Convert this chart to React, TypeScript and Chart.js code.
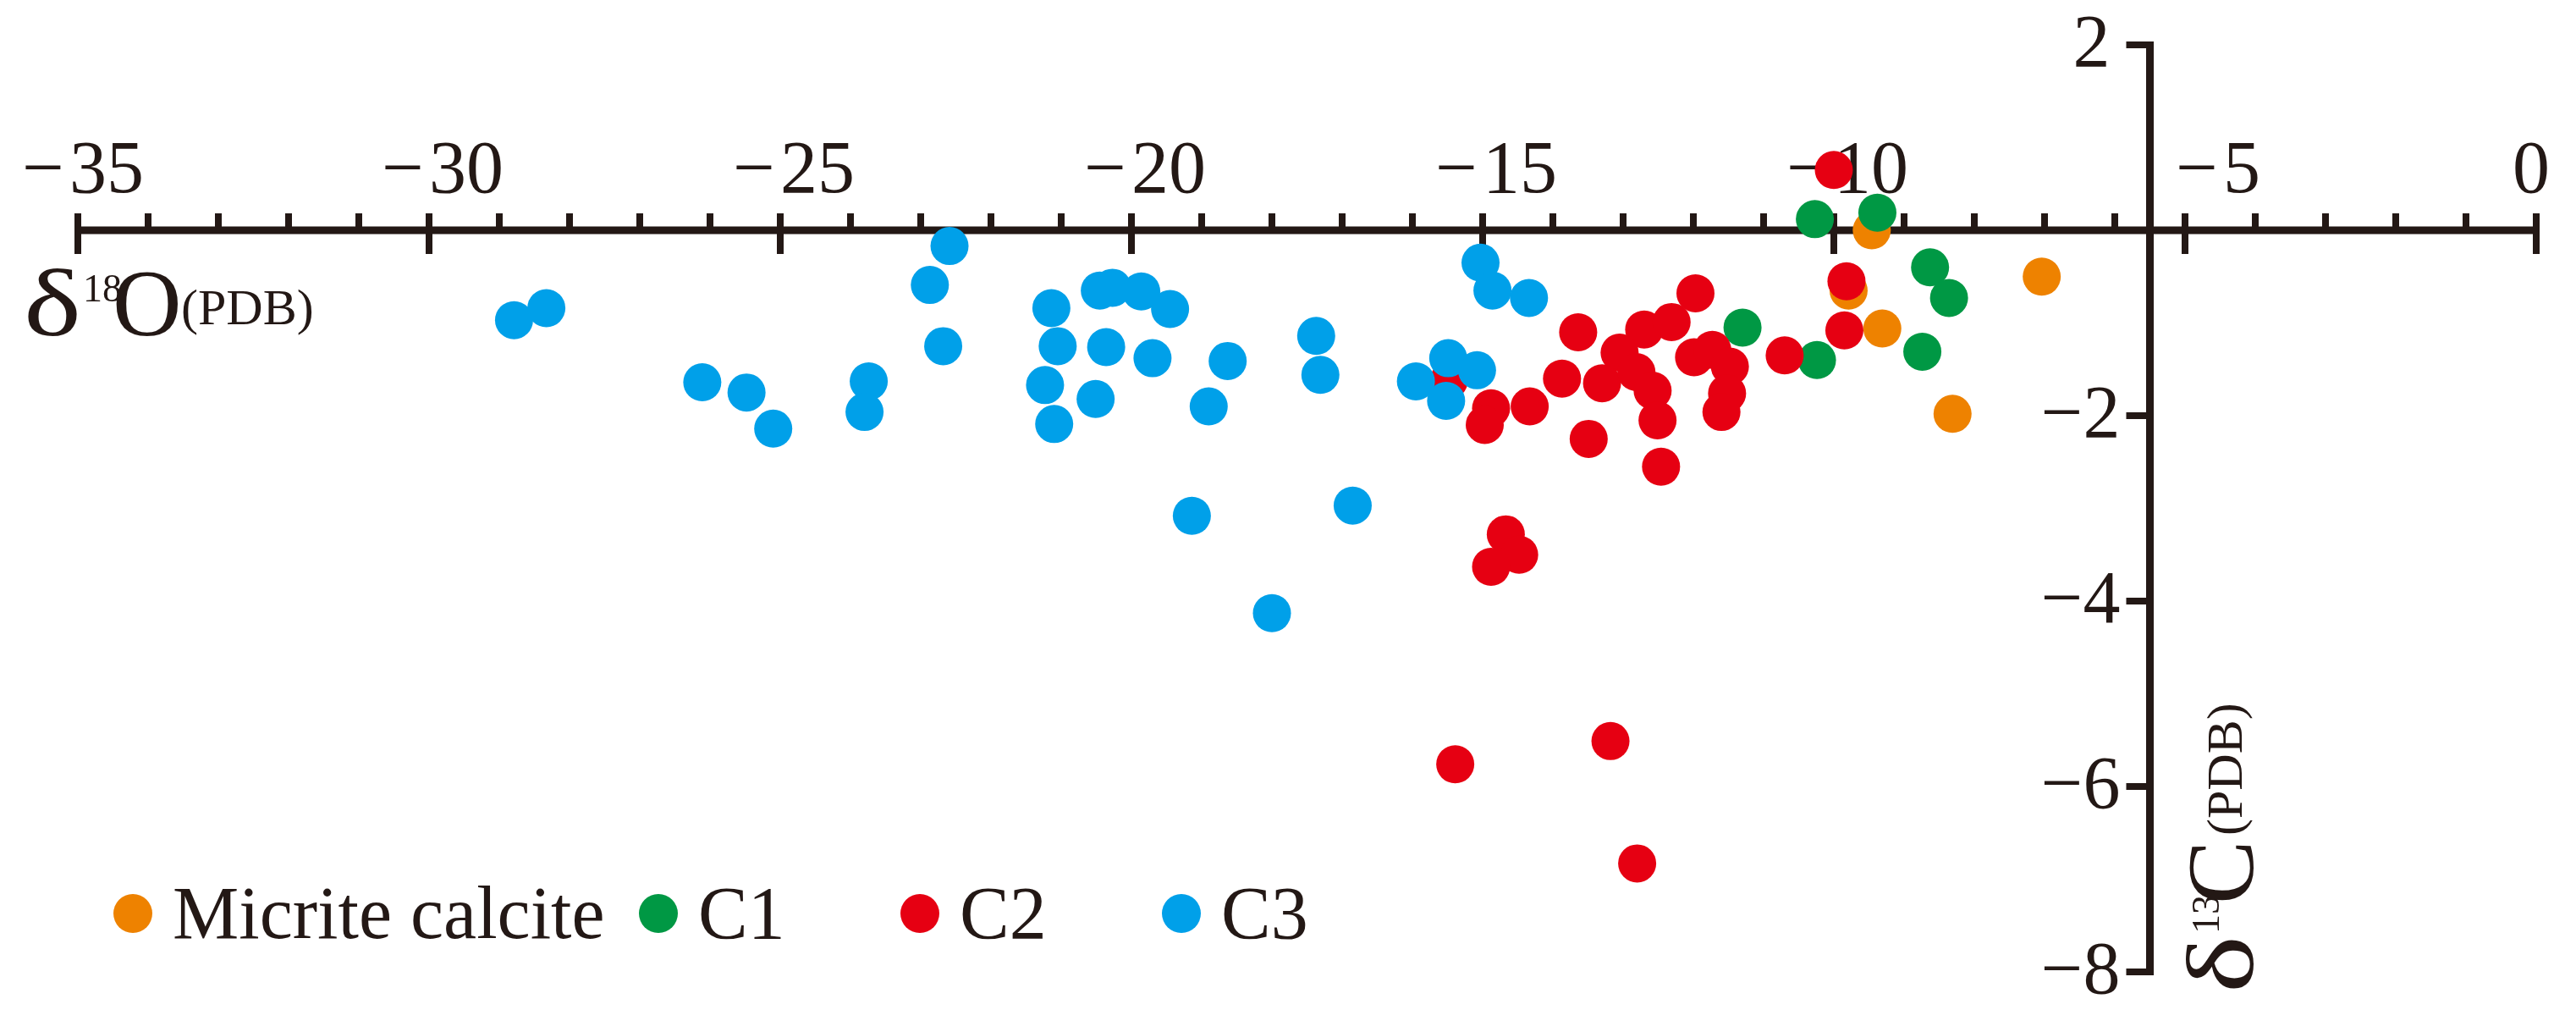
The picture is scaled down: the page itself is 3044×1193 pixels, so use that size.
import { useEffect, useRef } from 'react';
import { Chart, registerables } from 'chart.js';

Chart.register(...registerables);

// ---- data (δ18O, δ13C in ‰ PDB) ----
const seriesNames = ['Micrite calcite', 'C1', 'C2', 'C3'];
const seriesColors = ['#EE8200', '#009844', '#E60012', '#00A0E9'];

const micriteO = [-9.46, -7.04, -9.79, -9.31, -8.31];
const micriteC = [0.0, -0.5, -0.65, -1.06, -1.98];

const c1O = [-10.27, -9.38, -8.63, -8.36, -11.3, -10.24, -8.74];
const c1C = [0.12, 0.19, -0.4, -0.73, -1.05, -1.4, -1.31];

const c2O = [-10.0, -9.82, -9.85, -10.7, -11.97, -13.64, -12.7, -12.31, -13.05, -11.99, -11.73, -11.48, -11.52, -11.6, -13.87, -13.3, -12.81, -12.58, -12.51, -13.49, -12.46, -14.33, -14.88, -14.97, -15.48, -14.67, -14.48, -14.88, -15.39, -13.18, -12.8];
const c2C = [0.65, -0.55, -1.08, -1.35, -0.68, -1.1, -1.07, -0.99, -1.32, -1.37, -1.29, -1.47, -1.76, -1.96, -1.6, -1.65, -1.53, -1.73, -2.05, -2.25, -2.55, -1.9, -1.92, -2.1, -1.62, -3.28, -3.5, -3.63, -5.76, -5.51, -6.83];

const c3O = [-28.79, -28.33, -26.11, -25.48, -25.1, -23.74, -23.8, -22.59, -22.87, -22.68, -21.14, -21.05, -21.23, -21.1, -20.45, -20.27, -19.86, -19.45, -20.36, -20.51, -19.7, -18.63, -18.9, -19.14, -17.37, -17.31, -16.85, -18.0, -15.03, -14.86, -14.34, -15.49, -15.08, -15.95, -15.52];
const c3C = [-0.97, -0.84, -1.64, -1.75, -2.14, -1.63, -1.96, -0.17, -0.59, -1.25, -0.84, -1.25, -1.67, -2.09, -0.65, -0.62, -0.66, -0.85, -1.26, -1.82, -1.38, -1.41, -1.9, -3.08, -1.14, -1.56, -2.97, -4.13, -0.35, -0.65, -0.73, -1.38, -1.51, -1.63, -1.84];

// ---- axis definitions ----
const xMin = -35;
const xMax = 0;
const yMin = -8;
const yMax = 2;
const xMajorTicks = [-35, -30, -25, -20, -15, -10, -5, 0];
const xMinorStep = 1;
const yTickValues = [2, -2, -4, -6, -8];
const yAxisCrossesX = -5.5;

const FONT = "'Liberation Serif', 'Times New Roman', Times, serif";
const INK = '#231815';

function zip(xs: number[], ys: number[]) {
  return xs.map((x, i) => ({ x, y: ys[i] }));
}

function drawIsoLabel(
  ctx: CanvasRenderingContext2D,
  sup: string,
  letter: string
) {
  // local frame: origin = start of δ on the main baseline
  ctx.fillStyle = INK;
  ctx.textAlign = 'left';
  ctx.textBaseline = 'alphabetic';
  ctx.font = `113px ${FONT}`;
  const dw = ctx.measureText('δ').width;
  ctx.save();
  ctx.scale(68 / dw, 1);
  ctx.fillText('δ', 0, 0);
  ctx.restore();
  ctx.font = `46px ${FONT}`;
  ctx.fillText(sup, 70, -40);
  ctx.font = `113px ${FONT}`;
  ctx.fillText(letter, 105, 0);
  ctx.font = `60px ${FONT}`;
  ctx.fillText('(PDB)', 186, -13);
}

const axesPlugin = {
  id: 'customAxes',
  beforeDraw(chart: any) {
    const ctx = chart.ctx as CanvasRenderingContext2D;
    ctx.save();
    ctx.fillStyle = '#ffffff';
    ctx.fillRect(0, 0, chart.width, chart.height);
    ctx.restore();
  },
  beforeDatasetsDraw(chart: any) {
    const ctx = chart.ctx as CanvasRenderingContext2D;
    const xs = chart.scales.x;
    const ys = chart.scales.y;
    const y0 = ys.getPixelForValue(0);
    const xa = xs.getPixelForValue(yAxisCrossesX);
    ctx.save();
    ctx.strokeStyle = INK;
    ctx.fillStyle = INK;
    ctx.lineCap = 'butt';

    // x axis line
    ctx.lineWidth = 9;
    ctx.beginPath();
    ctx.moveTo(xs.getPixelForValue(xMin) - 4, y0);
    ctx.lineTo(xs.getPixelForValue(xMax) + 4, y0);
    ctx.stroke();

    // x ticks: minor upward, major through the axis
    ctx.lineWidth = 8;
    ctx.beginPath();
    for (let v = xMin; v <= xMax + 1e-9; v += xMinorStep) {
      const px = xs.getPixelForValue(v);
      const major = xMajorTicks.includes(v);
      ctx.moveTo(px, y0 - 20);
      ctx.lineTo(px, major ? y0 + 28 : y0);
    }
    ctx.stroke();

    // x tick labels (digits start at the tick, minus sign before it)
    ctx.font = `88px ${FONT}`;
    ctx.textBaseline = 'alphabetic';
    const base = y0 - 45;
    for (const v of xMajorTicks) {
      const px = xs.getPixelForValue(v);
      if (v === 0) {
        ctx.textAlign = 'center';
        ctx.fillText('0', px - 6, base);
        continue;
      }
      let dx = 0;
      if (v === xMin) dx = -10;
      if (v === -5) dx = 45;
      ctx.textAlign = 'left';
      ctx.fillText(String(Math.abs(v)), px + dx, base);
      ctx.textAlign = 'right';
      ctx.fillText('\u2212', px + dx - 6, base);
    }

    // y axis line
    ctx.lineWidth = 9;
    ctx.beginPath();
    ctx.moveTo(xa, ys.getPixelForValue(yMax) - 4);
    ctx.lineTo(xa, ys.getPixelForValue(yMin) + 4);
    ctx.stroke();

    // y ticks (to the left)
    ctx.lineWidth = 8;
    ctx.beginPath();
    for (const v of yTickValues) {
      const py = ys.getPixelForValue(v);
      ctx.moveTo(xa + 4, py);
      ctx.lineTo(xa - 28, py);
    }
    ctx.stroke();

    // y tick labels
    ctx.font = `88px ${FONT}`;
    ctx.textAlign = 'right';
    for (const v of yTickValues) {
      const py = ys.getPixelForValue(v);
      const txt = v < 0 ? '\u2212' + Math.abs(v) : String(v);
      ctx.fillText(txt, v < 0 ? xa - 35 : xa - 47, py + 25);
    }
    ctx.restore();
  },
  afterDraw(chart: any) {
    const ctx = chart.ctx as CanvasRenderingContext2D;
    const xs = chart.scales.x;
    const ys = chart.scales.y;
    const y0 = ys.getPixelForValue(0);
    const xa = xs.getPixelForValue(yAxisCrossesX);
    ctx.save();

    // δ18O(PDB) title under the x axis, left
    ctx.save();
    ctx.translate(28, y0 + 124);
    drawIsoLabel(ctx, '18', 'O');
    ctx.restore();

    // δ13C(PDB) title, vertical, right of the y axis
    ctx.save();
    ctx.translate(xa + 121, ys.getPixelForValue(yMin) + 25);
    ctx.rotate(-Math.PI / 2);
    drawIsoLabel(ctx, '13', 'C');
    ctx.restore();

    // legend
    const legendY = 1079;
    const legendDotX = [157, 778, 1087, 1396];
    ctx.font = `88px ${FONT}`;
    ctx.textAlign = 'left';
    ctx.textBaseline = 'alphabetic';
    seriesNames.forEach((name, i) => {
      ctx.fillStyle = seriesColors[i];
      ctx.beginPath();
      ctx.arc(legendDotX[i], legendY, 23, 0, Math.PI * 2);
      ctx.fill();
      ctx.fillStyle = INK;
      ctx.fillText(name, legendDotX[i] + 47, legendY + 29);
    });
    ctx.restore();
  },
};

export default function App() {
  const canvasRef = useRef<HTMLCanvasElement | null>(null);

  useEffect(() => {
    const canvas = canvasRef.current;
    if (!canvas) return;
    const seriesData = [
      zip(micriteO, micriteC),
      zip(c1O, c1C),
      zip(c2O, c2C),
      zip(c3O, c3C),
    ];
    // C3 drawn on top, then C2, C1, micrite at the bottom
    const drawOrder = [3, 2, 1, 0];
    const chart = new Chart(canvas, {
      type: 'scatter',
      data: {
        datasets: seriesNames.map((name, i) => ({
          label: name,
          data: seriesData[i],
          backgroundColor: seriesColors[i],
          borderWidth: 0,
          pointRadius: 22.5,
          pointHoverRadius: 22.5,
          pointStyle: 'circle',
          order: drawOrder[i],
          clip: false as any,
        })),
      },
      options: {
        responsive: false,
        animation: false,
        devicePixelRatio: 1,
        events: [],
        layout: { padding: { left: 92, right: 47, top: 53, bottom: 45 } },
        scales: {
          x: { type: 'linear', min: xMin, max: xMax, display: false },
          y: { type: 'linear', min: yMin, max: yMax, display: false },
        },
        plugins: {
          legend: { display: false },
          tooltip: { enabled: false },
        },
      },
      plugins: [axesPlugin],
    });
    return () => chart.destroy();
  }, []);

  return (
    <canvas
      ref={canvasRef}
      width={3044}
      height={1193}
      style={{ position: 'fixed', left: 0, top: 0, width: 3044, height: 1193, display: 'block' }}
    />
  );
}
